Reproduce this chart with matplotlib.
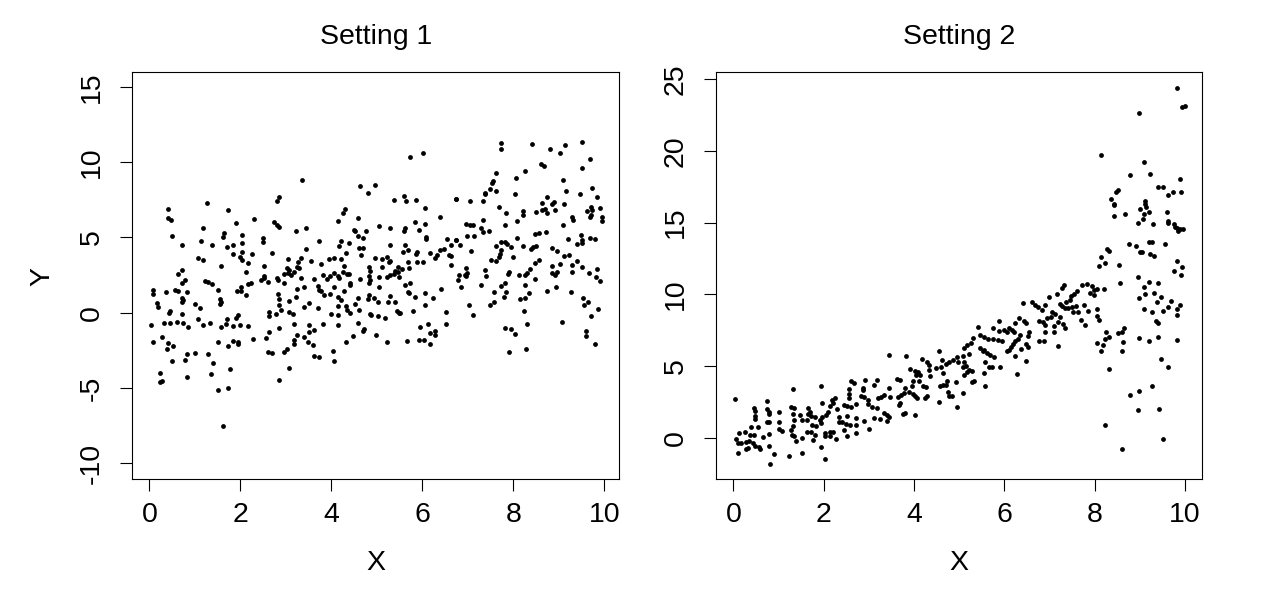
import matplotlib
matplotlib.use("Agg")
import matplotlib.pyplot as plt

plt.rcParams['font.family'] = ['Liberation Sans', 'DejaVu Sans']

titles = ["Setting 1", "Setting 2"]
x_label = "X"
y_label = "Y"
xticks = [0, 2, 4, 6, 8, 10]
yticks1 = [-10, -5, 0, 5, 10, 15]
yticks2 = [0, 5, 10, 15, 20, 25]

# ---- Setting 1 data ----
s1 = [
(2.84,7.65),(2.80,7.41),(1.26,7.25),(0.42,6.86),(1.74,6.79),(0.40,6.26),(0.48,6.13),(2.31,6.19),
(1.90,5.93),(2.75,6.00),(2.80,5.82),(2.86,5.67),(1.17,5.60),(3.22,5.40),(1.65,5.27),(1.63,5.00),
(0.49,5.07),(2.03,5.14),(2.49,4.94),(2.49,4.67),(1.13,4.74),(0.71,4.48),(1.37,4.48),(1.83,4.48),
(1.70,4.34),(2.03,4.61),(1.83,3.88),(2.03,4.01),(2.00,3.73),(2.04,3.48),(2.25,3.88),(2.69,3.95),
(1.08,3.64),(1.17,3.48),(2.16,3.28),(1.57,3.09),(2.53,3.09),(3.04,3.55),(3.26,3.35),(0.71,2.82),
(0.64,2.56),(2.12,2.69),(3.02,2.95),(3.06,2.82),(3.04,2.62),(2.97,2.60),(3.12,2.49),(3.19,2.69),
(3.24,3.02),(2.53,2.43),(2.51,2.29),(2.81,2.29),(2.82,2.18),(0.78,2.16),(0.71,1.96),(2.46,2.16),
(2.60,2.03),(1.22,2.09),(1.28,2.03),(1.37,1.90),(2.97,1.96),(2.23,1.96),(2.16,1.90),(3.24,1.57),
(0.09,1.48),(0.07,1.26),(0.36,1.37),(0.56,1.50),(0.63,1.43),(0.82,1.37),(1.50,1.50),(1.92,1.43),
(2.02,1.45),(2.01,1.70),(2.12,1.17),(2.82,1.26),(2.84,0.93),(0.72,0.97),(0.73,0.82),(0.72,0.73),
(3.22,1.04),(1.56,0.90),(1.57,0.73),(1.56,0.57),(0.16,0.66),(0.18,0.40),(1.00,0.57),(1.11,0.31),
(3.08,0.77),(2.86,0.51),(2.89,0.18),(0.45,0.11),(0.44,0.00),(0.71,-0.07),(1.96,-0.13),(1.90,-0.33),
(2.62,0.04),(2.62,-0.22),(2.78,-0.07),(3.08,0.04),(3.16,-0.11),(1.06,-0.42),(1.70,-0.42),(0.04,-0.82),
(0.32,-0.68),(0.45,-0.68),(0.60,-0.62),(0.73,-0.68),(0.84,-0.95),(1.19,-0.82),(1.33,-0.68),(1.57,-0.95),
(1.68,-0.73),(1.85,-0.88),(1.99,-0.82),(2.16,-0.88),(3.17,-0.73),(2.64,-1.28),(2.84,-1.01),(3.24,-1.48),
(0.07,-1.94),(0.27,-1.61),(0.42,-2.00),(0.53,-2.20),(0.38,-2.40),(1.50,-1.94),(1.83,-1.87),(1.94,-1.94),
(1.94,-2.07),(1.74,-2.20),(2.27,-1.74),(2.56,-1.68),(3.17,-1.81),(3.17,-2.07),(0.82,-2.73),(1.00,-2.67),
(1.30,-2.73),(2.60,-2.60),(2.69,-2.67),(2.95,-2.60),(3.02,-2.40),(0.49,-3.20),(0.78,-3.13),(1.41,-3.33),
(0.23,-3.99),(0.23,-4.59),(0.27,-4.52),(0.82,-4.25),(1.35,-4.06),(1.77,-3.73),(3.08,-3.66),(2.86,-4.45),
(1.50,-5.11),(1.74,-4.98),(1.63,-7.50),
(5.72,10.36),(6.01,10.63),(3.35,8.84),(4.62,8.38),(4.97,8.51),(4.80,7.98),(5.37,7.45),(5.59,7.72),
(5.64,7.39),(5.87,7.45),(6.73,7.52),(6.07,6.92),(4.30,6.86),(4.25,6.59),(4.14,6.06),(4.58,6.26),
(6.38,6.33),(3.44,5.60),(5.04,5.73),(5.30,5.60),(5.83,6.00),(6.05,5.86),(5.61,5.60),(5.59,5.40),
(5.92,5.47),(4.49,5.47),(4.53,5.40),(4.76,5.40),(4.59,5.07),(4.69,4.94),(6.09,5.00),(6.09,4.87),
(6.54,4.87),(6.73,4.81),(3.72,4.74),(4.21,4.74),(4.16,4.41),(4.38,4.61),(5.28,4.48),(5.61,4.48),
(6.64,4.48),(3.44,4.21),(4.60,4.28),(4.69,4.28),(4.32,3.95),(4.65,3.81),(5.68,4.14),(5.57,4.01),
(5.88,4.01),(5.86,3.88),(6.16,3.95),(6.38,4.14),(6.47,4.21),(6.32,3.81),(6.29,3.62),(6.58,3.81),
(6.62,3.75),(3.33,3.62),(3.30,2.95),(3.33,2.29),(3.55,3.42),(3.96,3.55),(4.07,3.62),(4.21,3.55),
(4.95,3.62),(5.11,3.55),(5.22,3.68),(5.28,3.42),(5.26,3.35),(5.68,3.35),(5.88,3.35),(6.01,3.35),
(3.77,3.22),(4.27,3.09),(4.82,3.02),(4.84,2.76),(5.11,3.02),(5.46,3.02),(5.55,2.89),(5.41,2.76),
(5.70,2.95),(6.62,3.15),(3.81,2.49),(3.90,2.23),(3.97,2.43),(4.07,2.62),(4.14,2.43),(4.16,2.29),
(4.25,2.69),(4.34,2.56),(4.38,2.56),(4.62,2.23),(4.82,2.43),(4.84,2.16),(4.82,1.96),(5.04,2.36),
(5.22,2.36),(5.30,2.49),(5.37,2.56),(5.46,2.69),(5.48,2.36),(5.74,1.96),(5.63,1.83),(3.61,2.23),
(3.41,1.70),(3.70,1.76),(3.74,1.50),(3.77,1.43),(4.05,1.70),(4.40,1.96),(4.40,1.83),(4.27,1.43),
(5.04,1.70),(5.68,1.37),(5.70,1.30),(6.07,1.30),(6.42,1.57),(3.85,1.17),(3.98,1.23),(4.14,1.04),
(4.21,0.84),(4.58,0.97),(4.82,1.17),(4.80,0.90),(4.93,0.97),(5.02,0.71),(5.30,1.10),(5.24,0.71),
(5.39,0.71),(5.83,1.04),(6.23,0.97),(3.52,0.64),(3.70,0.31),(3.39,0.37),(4.14,0.44),(4.32,0.44),
(4.34,0.18),(4.40,-0.02),(4.51,0.57),(4.60,0.18),(4.84,-0.09),(4.88,-0.15),(5.02,-0.22),(5.17,-0.35),
(5.44,0.11),(5.48,-0.02),(5.51,-0.05),(5.79,0.11),(6.05,0.51),(6.53,0.04),(4.00,-0.09),(4.14,-0.15),
(3.50,-0.82),(3.63,-1.15),(3.50,-1.28),(3.81,-0.75),(4.14,-0.82),(4.58,-0.68),(4.71,-1.08),(4.69,-1.21),
(4.99,-1.48),(4.47,-1.54),(4.32,-1.94),(5.22,-1.94),(5.66,-1.87),(5.96,-0.95),(6.12,-0.75),(6.16,-1.34),
(6.29,-1.21),(6.29,-1.48),(5.92,-1.81),(6.03,-1.81),(6.16,-2.07),(6.51,-0.75),(3.41,-1.61),(3.48,-1.94),
(3.59,-2.14),(3.61,-2.87),(3.74,-2.93),(4.03,-2.54),(4.05,-3.20),
(7.72,11.29),(7.74,10.89),(8.41,11.22),(8.80,10.89),(9.02,10.63),(9.13,11.16),(9.52,11.35),(9.68,10.23),
(9.52,9.63),(8.60,9.90),(8.67,9.77),(7.63,9.30),(8.25,9.44),(8.05,8.97),(7.55,8.77),(7.53,8.58),
(7.48,8.18),(7.37,7.98),(7.37,7.85),(7.61,8.05),(8.03,7.91),(9.09,8.84),(9.15,8.11),(9.46,7.91),
(9.72,8.25),(9.83,7.65),(6.75,7.52),(7.04,7.39),(7.33,7.39),(8.75,7.65),(8.64,7.25),(8.86,7.19),
(8.89,7.32),(9.11,7.19),(7.68,6.99),(7.83,6.59),(8.21,6.72),(8.21,6.46),(8.51,6.66),(8.62,6.79),
(8.69,6.86),(8.73,6.59),(8.91,6.79),(9.28,6.33),(9.32,6.13),(9.70,7.05),(9.63,6.72),(9.74,6.79),
(9.68,6.33),(9.70,6.46),(9.90,6.92),(9.96,6.33),(9.96,6.06),(7.33,6.13),(8.09,6.06),(6.97,5.86),
(7.04,5.80),(7.11,5.80),(7.81,5.80),(9.09,5.80),(7.30,5.60),(7.33,5.34),(7.46,5.40),(6.99,5.07),
(7.13,5.07),(8.71,5.34),(8.47,5.20),(8.56,5.27),(6.75,4.81),(6.82,4.48),(8.09,4.94),(9.20,4.87),
(9.48,5.14),(9.50,4.81),(9.52,4.61),(9.39,4.54),(9.68,4.94),(9.79,4.87),(7.63,4.41),(7.74,4.67),
(7.81,4.67),(7.87,4.54),(7.96,4.34),(8.21,4.41),(8.40,4.21),(8.44,4.34),(8.49,4.41),(8.86,4.28),
(8.97,4.08),(7.08,4.08),(7.74,4.14),(7.70,3.88),(7.68,3.68),(7.63,3.42),(7.52,3.48),(7.99,3.68),
(9.11,3.75),(9.22,3.81),(8.47,3.28),(8.56,3.48),(9.41,3.42),(9.02,3.22),(8.84,3.09),(9.30,3.15),
(9.50,3.02),(9.85,2.89),(6.97,2.95),(6.99,2.62),(6.93,2.49),(6.97,2.43),(6.80,2.49),(6.78,2.16),
(7.37,2.82),(7.41,2.43),(7.90,2.69),(7.88,2.56),(8.12,2.49),(8.25,2.49),(8.31,2.62),(8.36,2.89),
(8.47,2.23),(8.84,2.62),(8.91,2.49),(8.97,2.69),(9.30,2.69),(9.66,2.62),(9.81,2.36),(9.90,2.09),
(6.86,1.70),(7.28,1.83),(7.74,1.76),(7.81,1.96),(8.25,1.83),(8.93,1.70),(7.57,1.37),(7.83,1.37),
(7.79,1.04),(8.34,1.30),(8.25,0.97),(8.14,0.90),(8.73,1.43),(9.26,1.37),(9.53,0.97),(9.64,0.71),
(9.55,0.51),(7.57,0.71),(7.48,0.51),(7.02,0.51),(7.11,-0.15),(8.23,0.11),(9.87,0.24),(9.70,-0.22),
(9.06,-0.62),(8.31,-0.75),(7.81,-1.01),(7.96,-1.08),(8.03,-1.41),(9.59,-1.21),(9.59,-1.54),(9.79,-2.07),
(7.90,-2.60),(8.29,-2.40),
]
x1 = [p[0] for p in s1]
y1 = [p[1] for p in s1]

# ---- Setting 2 data ----
s2 = [
(0.03,2.72),(0.10,-1.04),(0.82,-1.81),(0.91,-1.11),(1.24,-1.25),(1.51,-1.04),(2.04,-1.46),(1.93,-0.63),
(0.78,-0.56),(1.33,3.41),(1.93,3.62),(2.61,3.97),(2.66,3.83),(2.92,4.04),(3.19,4.04),(3.12,3.69),
(2.86,3.48),(2.88,3.34),(2.57,3.41),(2.57,3.06),(2.55,2.79),(0.74,2.58),(1.97,2.44),(2.19,2.65),
(2.26,2.79),(2.21,2.44),(2.15,2.23),(2.83,2.92),(2.90,2.86),(2.97,2.65),(2.99,2.37),(3.08,2.16),
(3.21,2.79),(3.27,2.86),(2.46,2.30),(2.52,2.23),(2.61,2.16),(2.72,2.37),(3.19,2.09),(0.45,2.07),
(0.49,1.86),(0.47,1.51),(0.49,1.30),(0.74,2.00),(0.80,1.79),(0.78,1.65),(1.02,1.79),(1.27,2.16),
(1.35,2.09),(1.66,2.07),(1.70,1.79),(1.66,1.65),(1.71,1.51),(1.31,1.65),(1.47,1.58),(1.53,1.23),
(1.80,1.44),(1.97,1.44),(2.06,1.58),(2.10,1.79),(2.30,2.00),(2.33,1.44),(2.52,1.51),(2.72,1.37),
(3.12,1.37),(3.25,1.30),(2.90,1.16),(0.74,1.09),(0.80,1.09),(1.02,1.09),(1.35,1.23),(1.62,1.23),
(1.75,0.88),(1.84,0.81),(1.93,1.02),(1.91,1.23),(2.33,1.09),(2.41,1.09),(2.50,0.95),(2.59,0.88),
(2.72,0.88),(3.01,0.60),(0.40,0.74),(0.54,0.74),(1.02,0.60),(1.07,0.46),(1.33,0.81),(1.27,0.53),
(1.64,0.39),(1.71,0.39),(1.80,0.19),(2.04,0.32),(2.13,0.39),(2.21,0.39),(2.46,0.53),(2.72,0.32),
(0.12,0.32),(0.25,0.39),(0.36,0.19),(0.45,0.19),(0.78,0.26),(0.65,0.05),(1.29,0.19),(1.35,0.12),
(1.53,-0.02),(1.77,-0.16),(2.04,0.12),(2.15,0.12),(2.28,-0.09),(2.52,0.12),(1.38,-0.23),(0.05,-0.09),
(0.10,-0.37),(0.18,-0.37),(0.27,-0.30),(0.34,-0.23),(0.43,-0.37),(0.49,-0.58),(0.56,-0.65),(0.60,-0.79),
(0.32,-0.72),(0.27,-0.79),
(6.41,9.38),(6.61,9.45),(6.68,9.24),(6.74,9.10),(6.76,8.12),(5.88,8.12),(5.42,7.71),(6.23,7.99),
(6.32,8.33),(6.43,8.12),(6.48,7.99),(5.75,7.64),(5.88,7.43),(5.99,7.50),(6.06,7.36),(6.10,7.64),
(6.17,7.50),(6.21,7.36),(5.46,7.15),(5.55,7.01),(5.64,6.87),(5.75,6.87),(5.86,6.80),(5.95,6.73),
(6.54,7.36),(6.52,7.08),(6.34,7.15),(6.30,6.87),(6.23,6.73),(6.19,6.52),(6.14,6.31),(6.10,6.10),
(6.06,6.04),(5.31,6.94),(5.26,6.59),(5.17,6.45),(5.11,6.24),(6.48,6.52),(6.52,6.31),(6.76,6.73),
(6.37,6.17),(5.46,6.24),(5.55,6.10),(5.61,5.90),(5.68,5.76),(5.53,6.04),(5.22,5.83),(4.56,6.04),
(5.08,5.69),(4.95,5.62),(4.86,5.41),(4.78,5.27),(4.71,5.13),(4.62,5.41),(5.77,5.62),(6.23,5.69),
(6.48,5.34),(4.18,5.48),(4.29,5.27),(4.33,5.06),(4.33,4.71),(4.49,4.85),(4.60,4.92),(4.97,5.27),
(5.11,5.27),(5.15,4.99),(5.08,4.92),(5.22,4.71),(5.28,4.64),(5.17,4.57),(5.11,4.36),(5.57,5.27),
(5.66,4.92),(5.72,4.92),(5.90,4.92),(5.55,4.50),(6.28,4.43),(3.45,5.76),(3.83,5.69),(3.92,4.78),
(4.02,4.64),(4.09,4.57),(4.14,4.36),(4.05,4.36),(4.36,4.29),(4.64,4.50),(3.63,4.09),(3.70,4.02),
(3.98,3.95),(3.96,3.60),(4.11,3.95),(3.80,3.46),(4.20,3.60),(4.27,3.53),(4.58,3.60),(4.64,3.67),
(4.73,3.95),(4.71,3.67),(4.93,3.88),(5.28,3.88),(5.33,3.95),(5.57,3.60),(3.45,3.46),(3.34,2.97),
(3.47,2.83),(3.65,2.83),(3.72,2.97),(3.78,3.11),(3.89,3.18),(3.98,3.04),(4.03,2.90),(4.07,2.76),
(4.29,2.90),(4.25,2.76),(4.75,3.18),(4.77,2.90),(4.84,2.90),(5.08,3.11),(3.70,2.41),(3.67,2.27),
(4.56,2.48),(4.95,2.14),(3.34,1.72),(3.40,1.58),(3.45,1.44),(3.40,1.16),(3.76,1.65),(3.80,1.72),
(4.02,1.58),
(9.81,24.42),(9.92,23.10),(9.99,23.17),(8.97,22.68),(8.13,19.75),(9.10,19.20),(8.77,18.29),(9.23,18.36),
(9.88,18.01),(9.41,17.46),(9.52,17.46),(9.74,17.11),(9.90,17.11),(9.61,16.90),(8.51,17.25),(8.46,17.11),
(8.37,16.62),(8.42,16.27),(8.43,16.20),(8.68,15.58),(8.42,15.44),(9.12,16.48),(9.12,16.27),(9.14,16.06),
(9.19,15.71),(9.08,15.58),(9.06,15.23),(9.00,15.92),(8.95,14.95),(9.28,14.88),(9.59,15.71),(9.61,15.09),
(9.61,14.95),(9.76,14.88),(9.78,14.67),(9.82,14.60),(9.89,14.53),(9.96,14.53),(9.85,14.39),(8.75,13.49),
(8.91,13.35),(9.00,12.93),(9.04,12.93),(9.21,13.63),(9.26,13.63),(9.23,12.79),(9.30,12.65),(9.56,13.49),
(8.26,13.14),(8.31,13.00),(8.13,12.58),(8.22,12.16),(8.09,11.95),(8.53,12.02),(9.81,12.30),(9.76,11.61),
(9.94,11.88),(9.90,11.33),(8.55,10.77),(8.95,11.19),(9.08,10.49),(9.19,10.84),(9.41,10.77),(8.97,9.73),
(9.12,10.00),(9.30,10.07),(9.37,9.45),(9.46,9.80),(9.08,8.96),(9.26,8.75),(9.50,8.82),(9.68,9.52),
(9.63,9.10),(9.88,9.24),(9.83,8.96),(9.83,8.54),(9.35,8.12),(9.39,7.99),(8.20,10.35),(8.06,8.96),
(8.06,8.47),(8.09,8.19),(7.85,8.82),(7.78,7.85),(7.69,8.19),(7.71,10.63),(7.82,10.70),(7.93,10.56),
(7.98,10.28),(7.89,10.07),(8.05,10.35),(7.98,9.94),(7.60,10.21),(7.53,10.00),(7.47,9.87),(7.45,9.59),
(7.36,9.45),(7.27,9.17),(7.23,9.31),(7.34,9.03),(7.40,9.03),(7.49,9.10),(7.58,9.17),(7.62,8.75),
(7.51,8.75),(7.76,9.24),(7.31,10.63),(7.27,10.42),(7.16,10.00),(6.98,9.80),(6.90,9.24),(6.83,8.89),
(7.05,8.75),(7.11,8.61),(7.23,8.40),(7.03,8.40),(6.94,8.33),(6.85,8.05),(6.90,7.85),(6.90,7.36),
(7.09,7.78),(7.09,7.36),(7.18,8.05),(7.29,7.92),(7.34,7.64),(7.18,6.38),(6.87,6.73),(8.24,7.36),
(8.31,7.01),(8.22,6.87),(8.06,6.59),(8.19,6.45),(8.13,6.04),(8.51,7.29),(8.60,7.36),(8.64,7.64),
(8.62,6.66),(8.60,6.04),(8.97,6.94),(9.19,6.73),(9.39,7.01),(9.83,6.80),(9.46,5.48),(9.63,4.92),
(8.31,4.78),(9.26,3.60),(8.79,2.97),(8.97,3.25),(8.95,1.93),(9.43,2.00),(8.22,0.88),(9.52,-0.09),
(8.60,-0.79),
]
x2 = [p[0] for p in s2]
y2 = [p[1] for p in s2]

W, H = 1275, 600
fig = plt.figure(figsize=(W/100, H/100), dpi=100)

FS = 20.5
panels = [
    dict(rect=(132.3, 72.3, 619.3, 479.3), x=x1, y=y1, xlim=(-0.374, 10.33), ylim=(-11.06, 15.96),
         yticks=yticks1, title=titles[0], ylabel=True),
    dict(rect=(715.7, 72.3, 1202.3, 479.3), x=x2, y=y2, xlim=(-0.39, 10.38), ylim=(-2.91, 25.49),
         yticks=yticks2, title=titles[1], ylabel=False),
]

for p in panels:
    l, t, r, b = p['rect']
    ax = fig.add_axes([l/W, 1-b/H, (r-l)/W, (b-t)/H])
    ax.scatter(p['x'], p['y'], s=12, c='black', linewidths=0)
    ax.set_xlim(*p['xlim'])
    ax.set_ylim(*p['ylim'])
    ax.set_xticks(xticks)
    ax.set_yticks(p['yticks'])
    ax.set_xticklabels([str(v) for v in xticks])
    ax.set_yticklabels([str(v) for v in p['yticks']], rotation=90, va='center')
    ax.tick_params(direction='out', length=8.6, width=0.8, labelsize=FS, color='black')
    ax.tick_params(axis='x', pad=8)
    ax.tick_params(axis='y', pad=11)
    for sp in ax.spines.values():
        sp.set_linewidth(0.8)
        sp.set_color('black')
    cx = (l + r) / 2 / W
    fig.text(cx, 1-37/H, p['title'], ha='center', va='center', fontsize=FS)
    fig.text(cx, 1-563/H, x_label, ha='center', va='center', fontsize=FS)
    if p['ylabel']:
        fig.text(42/W, 1-276/H, y_label, ha='center', va='center', fontsize=FS, rotation=90)

fig.savefig("out.png", dpi=100)
